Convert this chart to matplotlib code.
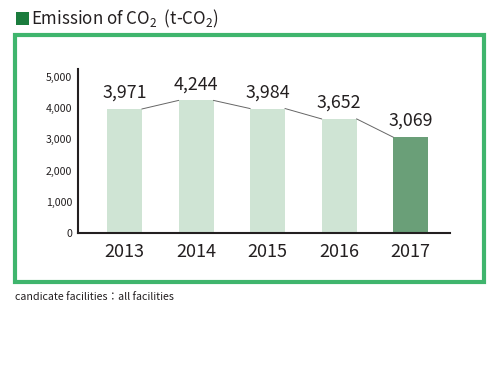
import matplotlib
matplotlib.use("Agg")
import matplotlib.pyplot as plt
from matplotlib.patches import Rectangle

plt.rcParams['font.family'] = ['Noto Sans CJK JP', 'DejaVu Sans']
plt.rcParams['mathtext.default'] = 'regular'

# data
years = ['2013', '2014', '2015', '2016', '2017']
emissions = [3971, 4244, 3984, 3652, 3069]
ytick_vals = [0, 1000, 2000, 3000, 4000, 5000]

light = '#cfe4d4'
dark = '#6a9f78'
frame_green = '#3fb56d'
text_col = '#231f20'

fig = plt.figure(figsize=(5.03, 3.74), dpi=100)

# outer green frame
fig.patches.append(Rectangle((0.030, 0.245), 0.932, 0.662, transform=fig.transFigure,
                             fill=False, edgecolor=frame_green, linewidth=3))

# title with green square
fig.patches.append(Rectangle((15.5/503, 1-25/374), 13.5/503, 13/374, transform=fig.transFigure,
                             facecolor='#1b7c3d', edgecolor='none'))
fig.text(31/503, 1-18.5/374, 'Emission of CO$_2$  (t-CO$_2$)', fontsize=12.2,
         color=text_col, va='center', ha='left')

fig.text(15/503, 1-297/374, 'candicate facilities：all facilities', fontsize=7.7,
         color=text_col, va='center', ha='left')

ax = fig.add_axes([78/503, 1-233/374, 372/503, 164/374])
x = list(range(len(years)))
width = 0.49
colors = [light] * (len(years) - 1) + [dark]
ax.bar(x, emissions, width=width, color=colors, zorder=2)

# thin connector lines between bar tops
for i in range(len(years) - 1):
    ax.plot([x[i] + width/2, x[i+1] - width/2], [emissions[i], emissions[i+1]],
            color='#666666', linewidth=0.7, zorder=3)

for xi, v in zip(x, emissions):
    ax.text(xi, v + 230, f'{v:,}', ha='center', va='bottom', fontsize=12.8, color=text_col)

ax.set_xlim(-0.65, 4.55)
ax.set_ylim(0, 5250)
ax.set_xticks(x)
ax.set_xticklabels(years, fontsize=13, color=text_col)
ax.set_yticks(ytick_vals)
ax.set_yticklabels([f'{v:,}' for v in ytick_vals], fontsize=7.6, color=text_col)
ax.tick_params(length=0)
ax.tick_params(axis='x', pad=7)
ax.tick_params(axis='y', pad=4)
for s in ['top', 'right']:
    ax.spines[s].set_visible(False)
for s in ['left', 'bottom']:
    ax.spines[s].set_linewidth(1.5)
    ax.spines[s].set_color(text_col)

fig.savefig('out.png', dpi=100)
